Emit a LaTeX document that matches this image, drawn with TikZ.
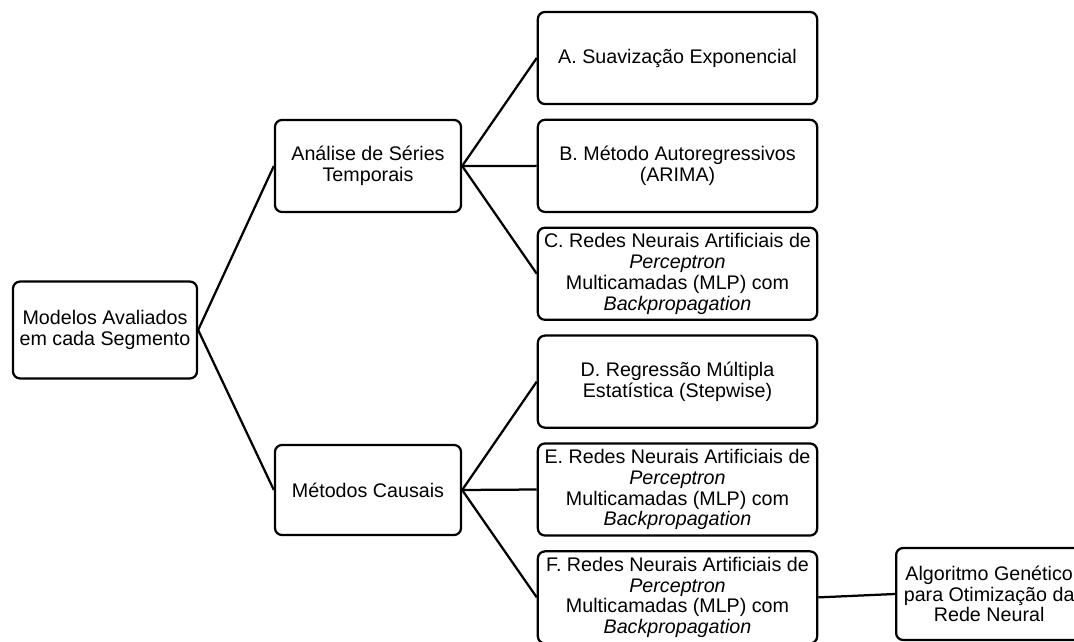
\documentclass[tikz,border=0pt]{standalone}
\usepackage{fontspec}
\setmainfont{Liberation Sans}
\usetikzlibrary{positioning}

\begin{document}
\begin{tikzpicture}[x=0.025cm,y=-0.025cm,
  every node/.style={font=\fontsize{14}{14.8}\selectfont},
  caixa/.style={draw, line width=1.6pt, rounded corners=5pt, align=center, inner sep=1pt, minimum height=2.3cm},
  modelo/.style={caixa, minimum width=6.98cm},
  ramo/.style={line width=1.6pt},
  node distance=0.34cm]
  \useasboundingbox (0,0) rectangle (1074,642);
  \node[caixa, minimum width=4.6cm, minimum height=2.42cm] (raiz) at (105,330) {Modelos Avaliados\\em cada Segmento};
  \node[caixa, minimum width=4.65cm] (series) at (368,166) {Análise de Séries\\Temporais};
  \node[caixa, minimum width=4.65cm, minimum height=2.25cm] (causais) at (368,490) {Métodos Causais};
  \node[modelo] (mA) at (677.5,58) {A. Suavização Exponencial};
  \node[modelo, below=of mA] (mB) {B. Método Autoregressivos\\(ARIMA)};
  \node[modelo, below=of mB] (mC) {C. Redes Neurais Artificiais de\\\textit{Perceptron}\\Multicamadas (MLP) com\\\textit{Backpropagation}};
  \node[modelo, below=of mC] (mD) {D. Regressão Múltipla\\Estatística (Stepwise)};
  \node[modelo, below=of mD] (mE) {E. Redes Neurais Artificiais de\\\textit{Perceptron}\\Multicamadas (MLP) com\\\textit{Backpropagation}};
  \node[modelo, below=of mE] (mF) {F. Redes Neurais Artificiais de\\\textit{Perceptron}\\Multicamadas (MLP) com\\\textit{Backpropagation}};
  \node[caixa, minimum width=4.65cm, anchor=west] (genetico) at (895,594) {Algoritmo Genético\\para Otimização da\\Rede Neural};
  \draw[ramo] (raiz.east) -- (series.west);
  \draw[ramo] (raiz.east) -- (causais.west);
  \foreach \m in {mA,mB,mC} {
    \draw[ramo] (series.east) -- (\m.west);
  }
  \foreach \m in {mD,mE,mF} {
    \draw[ramo] (causais.east) -- (\m.west);
  }
  \draw[ramo] (mF.east) -- (genetico.west);
\end{tikzpicture}
\end{document}
